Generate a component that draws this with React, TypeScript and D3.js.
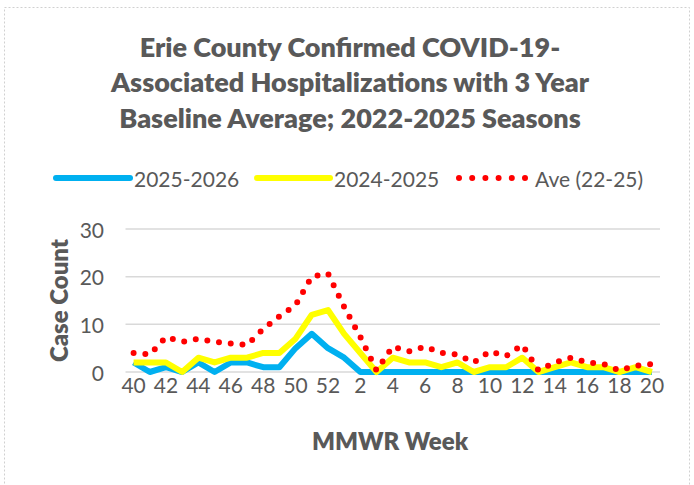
import React from "react";
import * as d3 from "d3";

// MMWR weeks in season order
const WEEKS = [
  40, 41, 42, 43, 44, 45, 46, 47, 48, 49, 50, 51, 52,
  1, 2, 3, 4, 5, 6, 7, 8, 9, 10, 11, 12, 13, 14, 15, 16, 17, 18, 19, 20,
];

const SEASON_2025_26 = [
  2, 0, 1, 0, 2, 0, 2, 2, 1, 1, 5, 8, 5,
  3, 0, 0, 0, 0, 0, 0, 0, 0, 0, 0, 0, 0, 0, 0, 0, 0, 0, 0, 0,
];

const SEASON_2024_25 = [
  2, 2, 2, 0, 3, 2, 3, 3, 4, 4, 7, 12, 13,
  8, 4, 0, 3, 2, 2, 1, 2, 0, 1, 1, 3, 0, 1, 2, 1, 1, 0, 1, 0,
];

const AVE_22_25 = [
  4, 3.67, 7.33, 6.33, 7, 6.33, 6, 5.67, 9, 11.67, 14, 20, 20.67,
  13.67, 7.33, 0.33, 5.33, 4.33, 5.33, 4, 3.67, 2, 4.33, 3.33, 5.67, 0.33,
  2, 3, 2, 1.67, 0.33, 1.33, 1.67,
];

const Y_TICKS = [0, 10, 20, 30];

const TITLE_LINES = [
  "Erie County Confirmed COVID-19-",
  "Associated Hospitalizations with 3 Year",
  "Baseline Average; 2022-2025 Seasons",
];

const SERIES = [
  { name: "2025-2026", values: SEASON_2025_26, color: "#00B0F0", dotted: false },
  { name: "2024-2025", values: SEASON_2024_25, color: "#FFFF00", dotted: false },
  { name: "Ave (22-25)", values: AVE_22_25, color: "#FF0000", dotted: true },
];

const FONT = "Lato, 'Open Sans', sans-serif";
const TEXT_COLOR = "#595959";

export default function App() {
  const width = 694;
  const height = 485;
  const plot = { left: 125.5, right: 660, top: 229, bottom: 372 };

  const idx = WEEKS.map((_, i) => i);
  const x = d3
    .scalePoint<number>()
    .domain(idx)
    .range([plot.left, plot.right])
    .padding(0.5);
  const y = d3.scaleLinear().domain([0, 30]).range([plot.bottom, plot.top]);

  const line = (vals: number[]) =>
    d3
      .line<number>()
      .x((_, i) => x(i) as number)
      .y((d) => y(d))(vals) || "";

  // legend layout: [line start, line end, text start]
  const legendPos = [
    [56, 130, 134],
    [257, 330, 334],
    [459, 525, 535],
  ];
  const legendY = 178;

  return (
    <svg
      width={width}
      height={height}
      style={{ position: "absolute", left: 0, top: 0, background: "#fff" }}
      fontFamily={FONT}
    >
      <rect x={0} y={0} width={width} height={height} fill="#fff" />
      <rect
        x={4.5}
        y={7.5}
        width={685}
        height={495}
        fill="none"
        stroke="#d0d0d0"
        strokeWidth={1}
        strokeDasharray="2 2"
      />

      {/* title */}
      {TITLE_LINES.map((t, i) => (
        <text
          key={t}
          x={350}
          y={46 + i * 35.5}
          textAnchor="middle"
          dominantBaseline="central"
          fontSize={27}
          fontWeight={800}
          fill={TEXT_COLOR}
        >
          {t}
        </text>
      ))}

      {/* legend */}
      {SERIES.map((s, i) => {
        const [x1, x2, tx] = legendPos[i];
        return (
          <g key={s.name}>
            <line
              x1={x1}
              x2={x2}
              y1={legendY}
              y2={legendY}
              stroke={s.color}
              strokeWidth={6}
              strokeLinecap="round"
              strokeDasharray={s.dotted ? "0 13.2" : undefined}
            />
            <text
              x={tx}
              y={legendY}
              dominantBaseline="central"
              fontSize={21}
              fill={TEXT_COLOR}
            >
              {s.name}
            </text>
          </g>
        );
      })}

      {/* gridlines */}
      {Y_TICKS.map((t) => (
        <line
          key={t}
          x1={plot.left}
          x2={plot.right}
          y1={y(t)}
          y2={y(t)}
          stroke="#d9d9d9"
          strokeWidth={1.5}
        />
      ))}

      {/* y tick labels */}
      {Y_TICKS.map((t) => (
        <text
          key={"yl" + t}
          x={104}
          y={y(t)}
          textAnchor="end"
          dominantBaseline="central"
          fontSize={21}
          fill={TEXT_COLOR}
        >
          {t}
        </text>
      ))}

      {/* x tick labels, every other week */}
      {WEEKS.map((w, i) =>
        i % 2 === 0 ? (
          <text
            key={"xl" + i}
            x={x(i) as number}
            y={384}
            textAnchor="middle"
            dominantBaseline="central"
            fontSize={21}
            fill={TEXT_COLOR}
          >
            {w}
          </text>
        ) : null
      )}

      {/* axis titles */}
      <text
        x={390}
        y={440}
        textAnchor="middle"
        dominantBaseline="central"
        fontSize={24}
        fontWeight={800}
        fill={TEXT_COLOR}
      >
        MMWR Week
      </text>
      <text
        transform={`translate(58,${(plot.top + plot.bottom) / 2}) rotate(-90)`}
        textAnchor="middle"
        dominantBaseline="central"
        fontSize={24}
        fontWeight={800}
        fill={TEXT_COLOR}
      >
        Case Count
      </text>

      {/* series */}
      {SERIES.map((s) => (
        <path
          key={"p" + s.name}
          d={line(s.values)}
          fill="none"
          stroke={s.color}
          strokeWidth={6}
          strokeLinejoin="round"
          strokeLinecap={s.dotted ? "round" : "butt"}
          strokeDasharray={s.dotted ? "0 11.8" : undefined}
        />
      ))}
    </svg>
  );
}
